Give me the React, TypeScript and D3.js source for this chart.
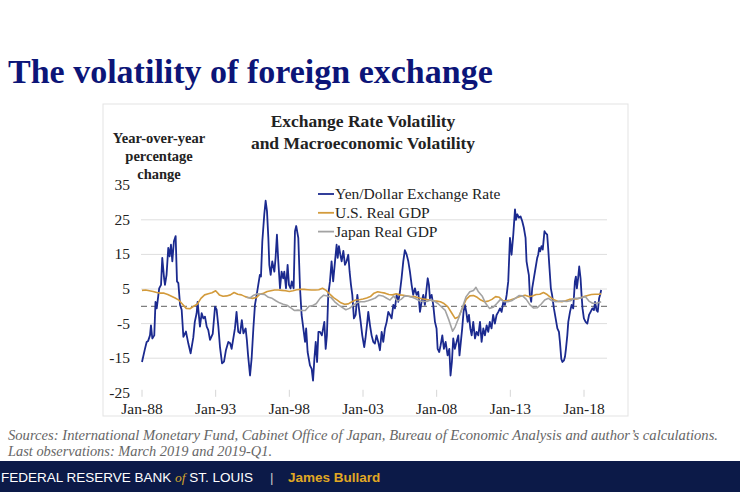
import React from 'react';
import * as d3 from 'd3';

// months since Jan-1988
const yenMonths = [0,2.4,3.8,5,6.5,7.3,8.4,10,11,12,14,15.5,16.5,18,18.7,20,21.4,22.5,23.6,24.7,26,27.4,28.5,29.6,31,32.3,33.7,35.8,37.7,39.6,41.8,43,44.5,45.3,47.2,48.6,50,51.3,52.7,54,55.4,57.6,59.5,60.8,62.2,63.5,65.2,66.8,68.4,70.3,71.8,73,75.7,77,78.4,79.9,81.3,82.6,84.4,85.4,86.4,88,89.3,90.7,92,93.4,94.7,96,96.9,98,99.6,100.7,101.8,102.9,103.7,104.8,106.1,107.8,108.8,109.9,111,112.4,113.7,115,115.9,117.3,118.6,119.7,121,122,123.5,124.6,125.6,127.3,128.7,130,131.4,132.8,133.7,134.9,136.8,138.2,139.3,140.4,141.5,142.6,143.7,145,146.5,148.5,149.6,150.6,151.7,153.1,154.4,155.7,157.2,158.5,159.4,160.4,161.5,162.6,164,165.3,166.6,168,169.1,170.2,171.3,172.6,174,175.4,176.7,178.1,179.4,181,182,183.5,184.3,185.7,187,188.4,189.7,191,192.4,193.8,195.2,196.5,197.9,199.3,200.6,202,203.3,204.7,206,207.4,208.7,210.1,211.4,212.8,214.1,215.5,216.9,218.2,219.6,220.9,222.3,223.6,225,226.4,227.7,229.1,230.4,231.8,232.7,233.7,234.5,235.9,237.2,238.6,239.9,240.8,242.1,243.2,244.6,245.9,247.3,248.9,250.3,251.3,252.4,253.5,254.8,256.2,257.6,258.6,259.7,260.8,261.9,263,264.1,265.2,266.3,267.4,268.5,269.8,271.2,272.5,273.9,275.3,276.6,278,279.3,280.7,282,283.3,284.7,286,287.4,288.8,290.2,291.6,292.9,294.3,295.6,297,298.3,299.7,301,302.4,303.8,304.6,305.7,307,308.3,309.7,311,312.4,313.2,314.3,315.1,315.9,317,317.8,319.1,320.5,321.9,322.7,323.5,324.3,325.4,326.4,327.8,328.6,330,330.8,331.9,333,334,335.5,336.9,338.3,339.6,340.4,341.5,342.4,343.7,344.5,345.3,346.4,347.2,348.6,349.9,351.2,352.6,353.4,354.2,355.2,356.1,357.2,358,358.8,359.9,361.3,362.7,364.1,365.4,366.8,368.1,369,370.2,371.2,372.3,373.1,374];
const yenValues = [-16.1,-12.3,-10.3,-10,-8.4,-5.5,-9.3,-8.4,1.3,-0.6,5.2,6.2,14,8.1,6.2,9.1,16.9,14.4,17.8,13,18.8,20.3,7.2,6.7,0.4,-1,-8.8,-7.3,-10.7,-13.6,-9,-4.5,-2,1.3,-5.9,-2,-3.5,-3,-5.9,-6.9,-9.7,-8,-0.1,-1,-5.9,-11.7,-16.5,-16,-12.6,-10.3,-10.7,-12.3,-6.4,-1.6,-7.4,-7.8,-4,-7.8,-6.4,-9.7,-14.2,-20,-15,-6.4,0.4,3.3,6.2,9.1,8.6,18.8,26.6,30.5,27.5,19.8,12,9.1,13,10,14,20.7,13,5.2,10,8.1,10,5.2,12,6.2,5.2,7.2,5.2,21.7,23.2,19.8,5.2,-2.5,-6.4,-10.3,-6.4,-13.2,-17.1,-18.1,-21.5,-15.2,-10.3,-16.1,-7.4,-7.4,-8.4,-4.5,-12.3,-8.4,3.3,7.2,13,7.2,13,17.8,14,17.4,15,13,16,12,13,14.9,10,6.2,3.3,-3.5,-2.5,3.3,-0.6,-4.5,-8.4,-11.8,-9.3,-4.5,-1.6,-5.5,-8.4,-10.3,-10.8,-8.4,-10.3,-12.7,-7.4,-10.3,-6.4,-4.5,-1.6,-2.5,-3.5,0.4,-0.6,3.3,1.3,4.2,8.1,13,16.2,15,13,10.1,6.2,3.3,5.2,3.3,4.2,-1.6,1.3,3.3,0.4,5.2,8.1,6.2,2.3,3.3,0.4,-4.5,-6.4,-12.3,-13.2,-11.3,-8.4,-12.3,-10.3,-14.2,-12.3,-20,-16.1,-9.3,-12.3,-10.3,-8.4,-14.2,-10.3,-6.4,-1.6,0.4,-1.6,-4.5,-2.5,-6.4,-8.4,-4.5,-9.3,-7.4,-8.4,-4.5,-10.3,-6.4,-8.4,-5.5,-7.4,-4.5,-6.4,-2.5,-5,-2.5,-1.6,-0.6,-1.6,1.3,0.4,3.3,7.2,19.8,14.9,20.7,28,25,26.6,25.6,26,24.6,22.7,19.8,13,10.6,9,3.3,1.3,5.2,8,11,14,14.9,16.9,15.9,17.4,16.4,21.7,21.2,20.7,16.9,11,5.2,3.3,-0.6,-3.5,-6.4,-7.4,-10.3,-15.2,-16.1,-15.6,-14.6,-12.3,-8.4,-4.5,-1.6,0.4,-0.6,7.2,8.6,5.2,8.1,11.5,8.1,3.3,-0.6,-3.5,-4.5,-5,-2.5,-1.6,-0.6,-1.1,1.3,-1.1,-1.6,2.3,3.3,4.7];

const usMonths = [0,3,6,9,12,15,18,21,24,27,30,33,36,39,42,45,48,51,54,57,60,63,66,69,72,75,78,81,84,87,90,93,96,99,102,105,108,111,114,117,120,123,126,129,132,135,138,141,144,147,150,153,156,159,162,165,168,171,174,177,180,183,186,189,192,195,198,201,204,207,210,213,216,219,222,225,228,231,234,237,240,243,246,249,252,255,258,261,264,267,270,273,276,279,282,285,288,291,294,297,300,303,306,309,312,315,318,321,324,327,330,333,336,339,342,345,348,351,354,357,360,363,366,369,372,374];
const usValues = [4.6,4.7,4.5,4.3,4.0,3.8,3.8,3.4,2.9,2.4,1.8,0.6,-0.6,-0.7,0.0,0.6,2.3,3.3,3.6,3.9,4.5,3.3,2.9,3.0,3.3,4.0,3.5,3.3,2.8,2.5,2.3,2.5,3.5,3.8,4.3,4.5,4.7,4.7,4.6,4.5,4.3,4.5,4.8,4.9,4.9,4.8,4.7,4.7,4.8,5.2,4.6,3.5,2.5,1.8,1.0,0.6,0.7,1.3,1.8,1.9,2.1,2.4,2.8,3.8,4.2,4.0,3.8,3.4,3.3,3.6,3.3,3.2,3.0,2.8,2.8,2.5,2.2,2.0,1.8,1.6,1.5,1.3,0.8,-0.1,-1.8,-3.5,-3.0,-0.5,2.0,3.0,3.1,2.6,1.8,1.3,1.5,2.0,2.8,2.6,1.6,1.6,1.8,2.2,2.6,3.0,3.2,2.8,3.0,3.4,3.5,4.0,3.4,2.5,1.8,1.4,1.3,1.6,2.0,2.1,2.1,2.4,2.8,3.1,3.4,3.5,3.5,3.6];

const jpMonths = [85,88,91,94,97,100,103,106,109,112,115,118,121,124,127,130,133,136,139,142,145,148,151,154,157,160,163,166,169,172,175,178,181,184,187,190,193,196,199,202,205,208,211,214,217,220,223,226,229,232,235,238,241,244,247,250,253,255,258,261,264,267,270,272,274,277,280,283,286,289,292,295,298,301,304,307,310,313,316,319,322,325,328,331,334,337,340,343,346,349,352,355,358,361,364,367,370,373,374];
const jpValues = [2.6,2.4,3.2,3.6,3.5,3.4,2.6,2.3,1.6,1.0,0.6,0.3,-0.4,-1.2,-1.1,-1.2,-1.2,0.0,0.2,0.8,2.3,3.2,3.0,2.5,1.3,0.4,-0.3,-1.0,-0.6,0.3,1.0,1.3,1.3,1.6,2.0,2.4,3.2,3.0,2.4,1.8,3.0,1.5,2.0,3.0,2.9,2.6,2.2,1.6,1.4,1.4,1.8,1.5,0.8,-0.2,-1.2,-4.0,-7.2,-6.0,-3.3,-0.3,2.8,4.2,4.6,5.5,4.2,3.0,0.8,-0.6,-0.3,0.8,2.0,1.3,1.3,1.6,2.3,3.1,3.0,2.0,0.4,-0.5,-0.4,0.6,1.8,2.3,1.6,1.3,1.5,1.5,1.4,1.6,2.3,2.3,2.5,2.8,1.5,0.9,0.9,1.2,1.3];

const yTickValues = [35, 25, 15, 5, -5, -15, -25];
const gridValues = [25, 15, 5, -5, -15];
const xTickMonths = [0, 60, 120, 180, 240, 300, 360];
const xTickLabels = ['Jan-88', 'Jan-93', 'Jan-98', 'Jan-03', 'Jan-08', 'Jan-13', 'Jan-18'];
const legendLabels = ['Yen/Dollar Exchange Rate', 'U.S. Real GDP', 'Japan Real GDP'];
const seriesColors = ['#1b2a8f', '#d39b3c', '#a3a3a3'];

const SERIF = '"Liberation Serif", "Times New Roman", serif';
const SANS = '"Liberation Sans", Arial, sans-serif';

export default function App() {
  const x = d3.scaleLinear().domain([0, 360]).range([142, 584]);
  const y = d3.scaleLinear().domain([-25, 35]).range([392.8, 185.2]);
  const line = d3.line<[number, number]>().x(d => x(d[0])).y(d => y(d[1]));
  const yen = yenMonths.map((m, i) => [m, yenValues[i]] as [number, number]);
  const us = usMonths.map((m, i) => [m, usValues[i]] as [number, number]);
  const jp = jpMonths.map((m, i) => [m, jpValues[i]] as [number, number]);
  const gridX0 = 141;
  const gridX1 = 607;

  return (
    <svg width={740} height={492} style={{ position: 'absolute', left: 0, top: 0, background: '#fff' }}>
      <rect x={0} y={0} width={740} height={492} fill="#fff" />
      <text x={8} y={83} fontFamily={SERIF} fontWeight="bold" fontSize={34} fill="#0c1578">The volatility of foreign exchange</text>

      <rect x={103} y={104} width={525} height={312} fill="none" stroke="#e3e3e3" strokeWidth={1} />

      <text textAnchor="middle" fontFamily={SERIF} fontWeight="bold" fontSize={17.5} fill="#222">
        <tspan x={363} y={127}>Exchange Rate Volatility</tspan>
        <tspan x={363} y={149}>and Macroeconomic Volatility</tspan>
      </text>
      <text textAnchor="middle" fontFamily={SERIF} fontWeight="bold" fontSize={14.5} fill="#222">
        <tspan x={159} y={143}>Year-over-year</tspan>
        <tspan x={159} y={161}>percentage</tspan>
        <tspan x={159} y={179}>change</tspan>
      </text>

      {gridValues.map(v => (
        <line key={v} x1={gridX0} x2={gridX1} y1={y(v)} y2={y(v)} stroke="#dedede" strokeWidth={1} />
      ))}
      {xTickMonths.map(m => (
        <line key={m} x1={x(m)} x2={x(m)} y1={y(-25) - 3} y2={y(-25) + 4} stroke="#d6d6d6" strokeWidth={1} />
      ))}
      <line x1={gridX0} x2={gridX1} y1={y(0)} y2={y(0)} stroke="#7f7f7f" strokeWidth={1.3} strokeDasharray="6,4" />

      {yTickValues.map(v => (
        <text key={v} x={130} y={y(v) + 5} textAnchor="end" fontFamily={SERIF} fontSize={15.5} fill="#222">{v}</text>
      ))}
      {xTickMonths.map((m, i) => (
        <text key={m} x={x(m)} y={414} textAnchor="middle" fontFamily={SERIF} fontSize={15.5} fill="#222">{xTickLabels[i]}</text>
      ))}

      <path d={line(yen) || ''} fill="none" stroke={seriesColors[0]} strokeWidth={1.8} strokeLinejoin="round" />
      <path d={line(us) || ''} fill="none" stroke={seriesColors[1]} strokeWidth={1.6} strokeLinejoin="round" />
      <path d={line(jp) || ''} fill="none" stroke={seriesColors[2]} strokeWidth={1.6} strokeLinejoin="round" />

      {legendLabels.map((lab, i) => (
        <g key={lab}>
          <line x1={318} x2={334} y1={194 + i * 18.8} y2={194 + i * 18.8} stroke={seriesColors[i]} strokeWidth={1.8} />
          <text x={335} y={199 + i * 18.8} fontFamily={SERIF} fontSize={15.5} fill="#222">{lab}</text>
        </g>
      ))}

      <text x={8} y={440} fontFamily={SERIF} fontStyle="italic" fontSize={14} fill="#666" textLength={710} lengthAdjust="spacingAndGlyphs">Sources: International Monetary Fund, Cabinet Office of Japan, Bureau of Economic Analysis and author’s calculations.</text>
      <text x={8} y={456} fontFamily={SERIF} fontStyle="italic" fontSize={14} fill="#666" textLength={264} lengthAdjust="spacingAndGlyphs">Last observations: March 2019 and 2019-Q1.</text>

      <rect x={0} y={461} width={740} height={31} fill="#0c1a48" />
      <text y={482} fontFamily={SANS} fontSize={13.5} fill="#fff">
        <tspan x={1}>FEDERAL RESERVE BANK </tspan>
        <tspan fill="#d4a72c" fontStyle="italic" fontFamily={SERIF}>of</tspan>
        <tspan> ST. LOUIS</tspan>
        <tspan x={270} fill="#c8c8c8">|</tspan>
        <tspan x={288} fill="#e0a823" fontWeight="bold">James Bullard</tspan>
      </text>
    </svg>
  );
}
